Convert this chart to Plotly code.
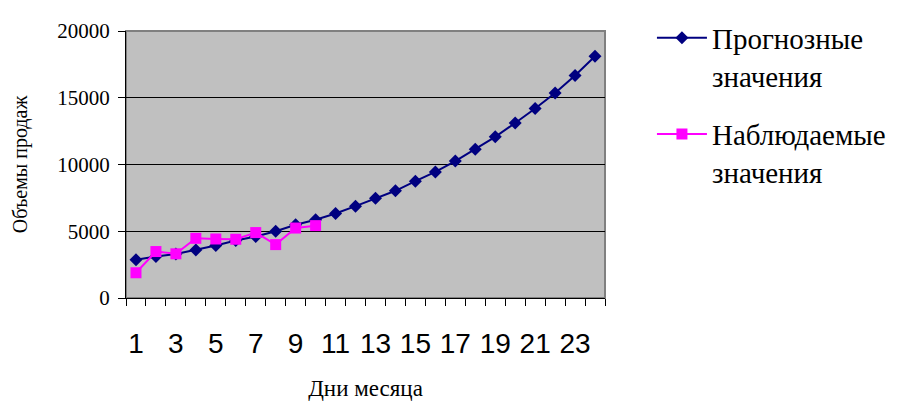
import plotly.graph_objects as go

# Days of the month (categories on the x axis)
days = list(range(1, 25))

# Forecast sales volumes for each day
forecast = [2860, 3110, 3300, 3600, 3930, 4300, 4600, 5000, 5490, 5860,
            6330, 6880, 7480, 8030, 8750, 9440, 10260, 11150, 12070, 13110,
            14190, 15350, 16670, 18110]

# Observed sales volumes (first ten days)
obs_days = list(range(1, 11))
observed = [1890, 3480, 3310, 4470, 4420, 4400, 4900, 4000, 5240, 5420]

# Labelled days along the axis
label_days = list(range(1, 24, 2))
label_text = [str(d) for d in label_days]

y_ticks = [0, 5000, 10000, 15000, 20000]

serif = "Liberation Serif, Times New Roman, serif"
sans = "Liberation Sans, Arial, sans-serif"

fig = go.Figure()

fig.add_trace(go.Scatter(
    x=days, y=forecast, mode="lines+markers",
    name="Прогнозные<br>значения", legendgroup="f",
    line=dict(color="#000080", width=2),
    marker=dict(symbol="diamond", size=10, color="#000080"),
))

fig.add_trace(go.Scatter(
    x=obs_days, y=observed, mode="lines+markers",
    name="Наблюдаемые<br>значения", legendgroup="o",
    line=dict(color="#FF00FF", width=2),
    marker=dict(symbol="square", size=11, color="#FF00FF"),
))

# Grey frame around the plotting area
fig.add_shape(type="rect", xref="paper", yref="paper", x0=0, y0=0, x1=1, y1=1,
              line=dict(color="#808080", width=2), fillcolor="rgba(0,0,0,0)",
              layer="below")

fig.update_layout(
    width=913, height=401,
    margin=dict(l=126, r=308, t=29, b=103),
    paper_bgcolor="white",
    plot_bgcolor="#C0C0C0",
    font=dict(family=serif, color="black"),
    showlegend=True,
    legend=dict(
        x=1.098, y=1.07, xanchor="left", yanchor="top",
        font=dict(family=serif, size=29, color="black"),
        bgcolor="rgba(0,0,0,0)",
        valign="top",
        traceorder="grouped",
        tracegroupgap=18,
        itemwidth=50,
    ),
    xaxis=dict(
        range=[0.5, 24.5],
        automargin=False,
        tickmode="array", tickvals=label_days, ticktext=label_text,
        ticks="", ticklen=0, tickangle=0,
        ticklabelstandoff=20,
        tickfont=dict(family=sans, size=28, color="black"),
        showgrid=False, zeroline=False,
        showline=True, linecolor="black", linewidth=1,
        minor=dict(tick0=0.5, dtick=1, ticks="outside", ticklen=7,
                   tickcolor="black", tickwidth=1, showgrid=False),
        title=dict(text="Дни месяца", font=dict(family=serif, size=23, color="black"),
                   standoff=22),
    ),
    yaxis=dict(
        range=[0, 20000],
        automargin=False,
        tickmode="array", tickvals=y_ticks, ticktext=[str(v) for v in y_ticks],
        ticks="outside", ticklen=7, tickcolor="black",
        ticklabelstandoff=4,
        tickfont=dict(family=serif, size=21, color="black"),
        showgrid=True, gridcolor="black", gridwidth=1,
        zeroline=False,
        showline=True, linecolor="black", linewidth=1,
        title=dict(text="Объемы продаж", font=dict(family=serif, size=20, color="black"),
                   standoff=24),
    ),
)

fig.write_html("out.html")
